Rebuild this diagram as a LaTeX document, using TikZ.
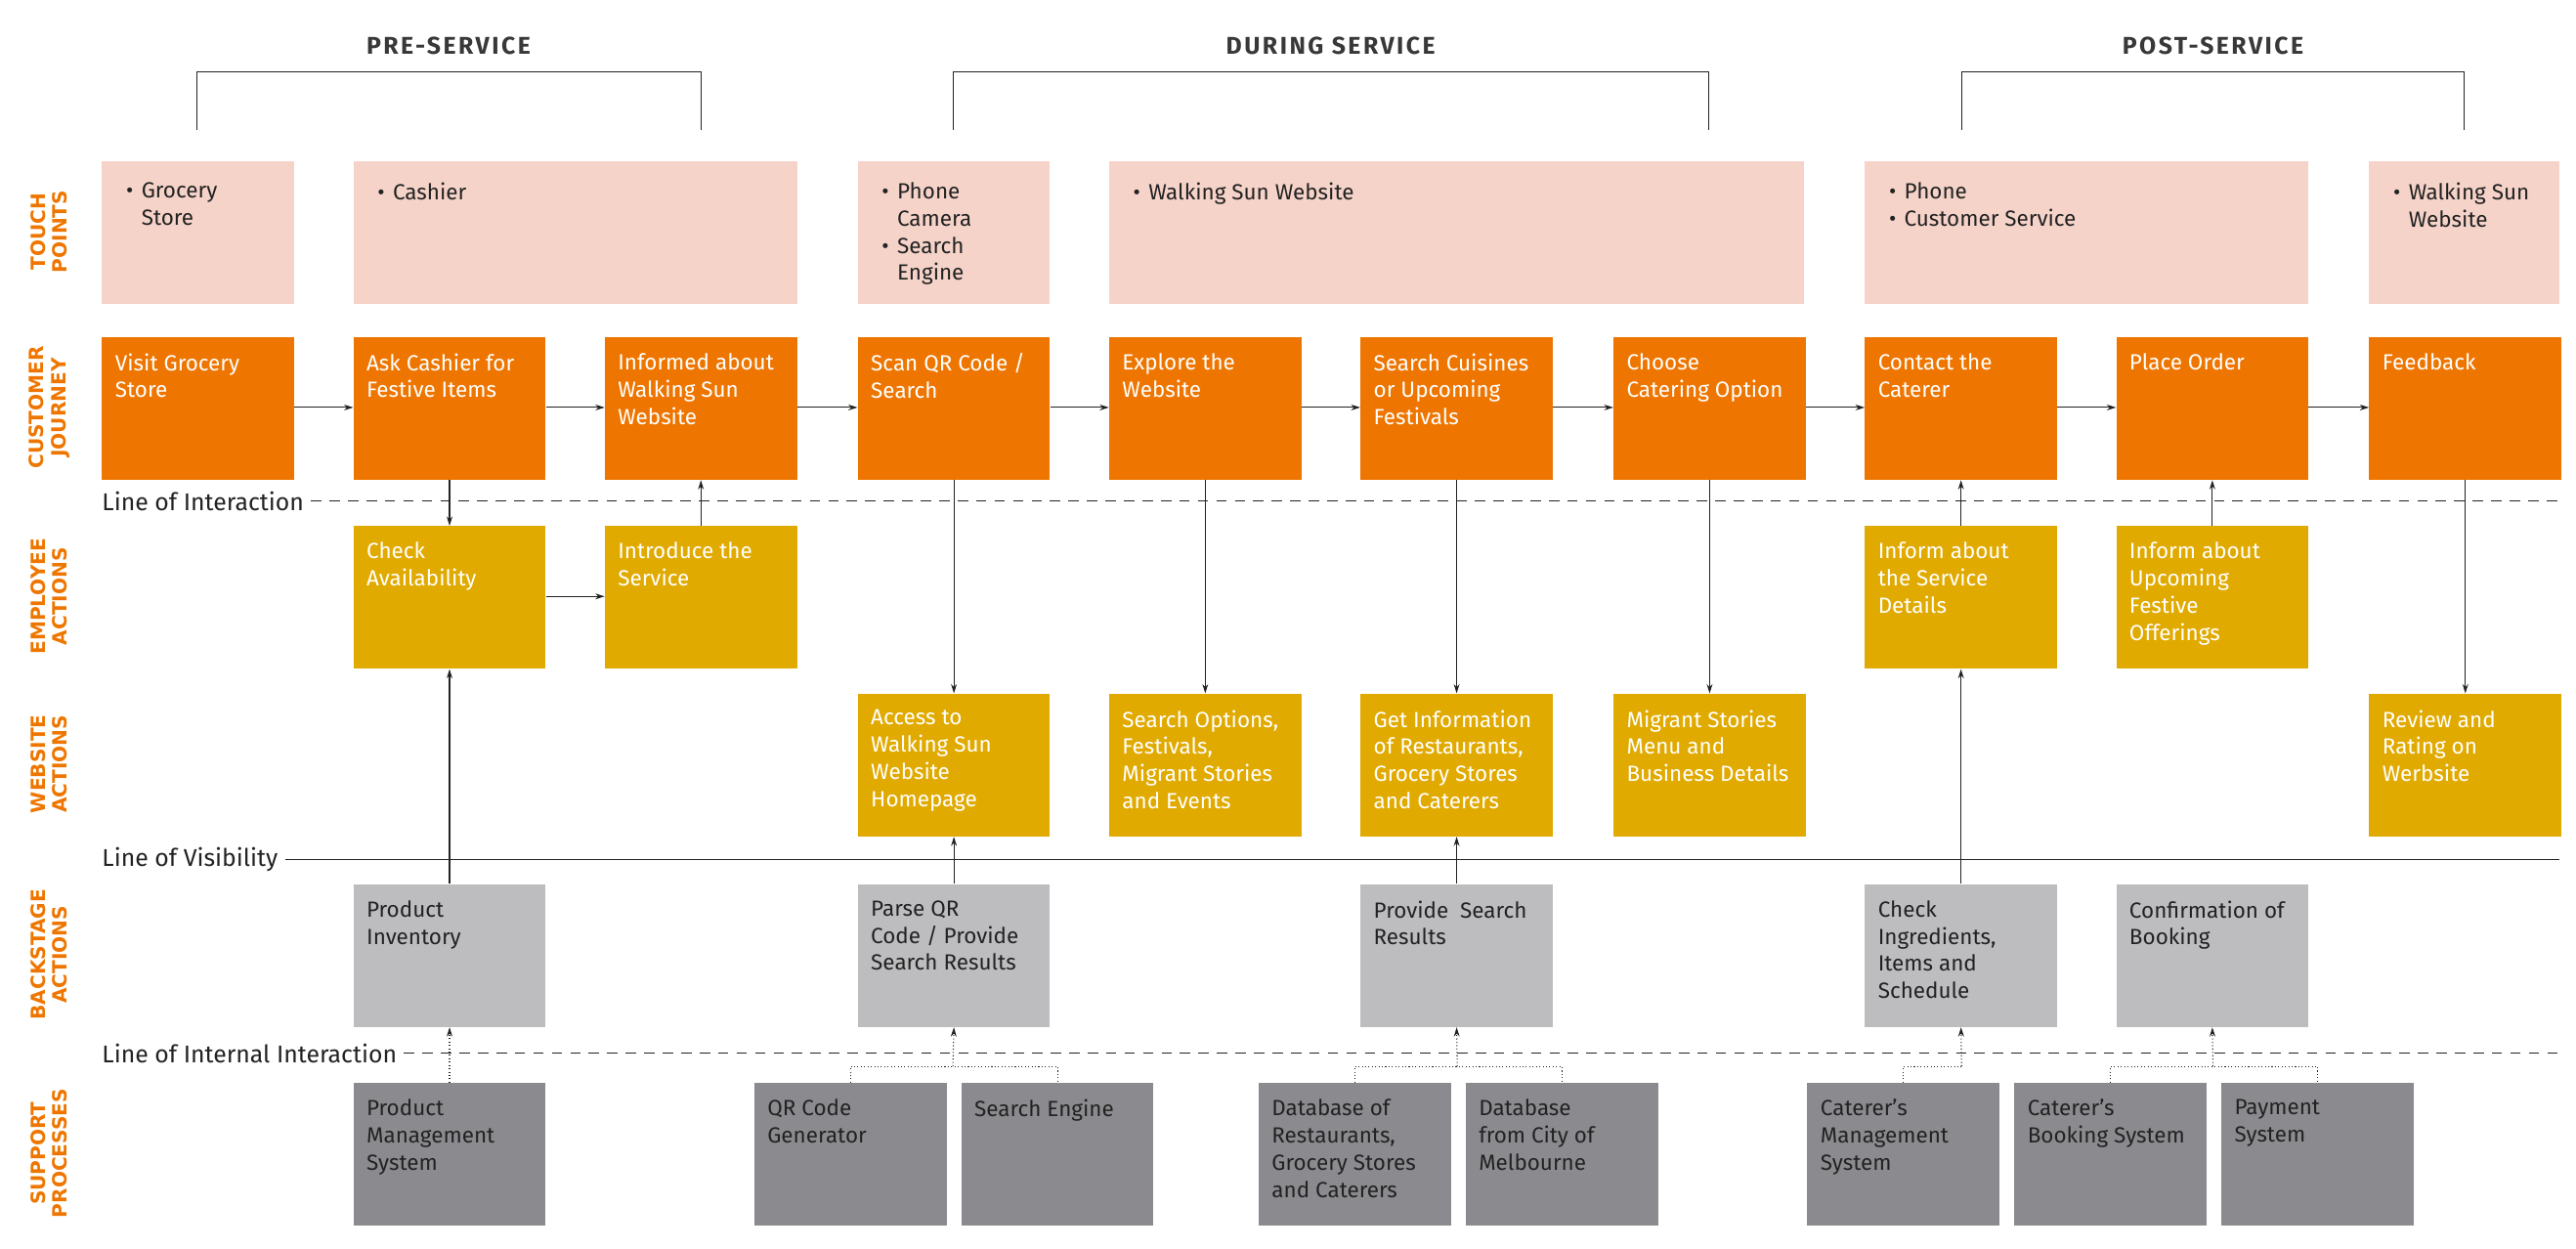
\documentclass[tikz,border=0pt]{standalone}
\usepackage{fontspec}
\setmainfont{Fira Sans}
\newfontfamily\rowfont{DejaVu Sans}
\usetikzlibrary{arrows.meta,positioning,calc}
\definecolor{bporange}{HTML}{EE7600}
\definecolor{bpyellow}{HTML}{E1AA00}
\definecolor{bppink}{HTML}{F5D3C8}
\definecolor{bplgray}{HTML}{BDBDC0}
\definecolor{bpdgray}{HTML}{8B8B8F}
\definecolor{bpink}{HTML}{222222}
\newcommand{\bx}[1]{\parbox[b][4.35cm][t]{5.85cm}{\vskip 0.5cm\raggedright\leftskip=0.4cm #1}}
\newcommand{\tpb}[2][5.85cm]{\parbox[b][4.35cm][t]{#1}{\vskip 0.65cm\raggedright\leftskip=1.2cm #2}}
\newcommand{\bul}{\leavevmode\llap{\textbullet\hspace{0.25cm}}}

\begin{document}
\begin{tikzpicture}[x=0.05cm,y=-0.05cm,
  base/.style={anchor=north west,inner sep=0pt,font=\fontsize{19}{23.5}\selectfont,text=bpink},
  box/.style={base,minimum width=5.85cm,minimum height=4.35cm},
  cj/.style={box,fill=bporange,text=white},
  ea/.style={box,fill=bpyellow,text=white},
  wa/.style={box,fill=bpyellow,text=white},
  ba/.style={box,fill=bplgray},
  sp/.style={box,fill=bpdgray},
  tp/.style={base,fill=bppink,minimum height=4.35cm},
  rowlab/.style={rotate=90,align=center,text=bporange,font=\rowfont\bfseries\fontsize{17}{19}\selectfont},
  phase/.style={font=\bfseries\fontsize{21}{24}\selectfont\addfontfeatures{LetterSpace=10},text=bpink!90},
  linelab/.style={anchor=west,inner sep=0pt,font=\fontsize{21}{24}\selectfont,text=bpink},
  arr/.style={-{Stealth[length=8pt,width=5pt]},line width=0.9pt,bpink},
  dotl/.style={dotted,line width=0.9pt,bpink},
  dotarr/.style={dotl,-{Stealth[length=8pt,width=5pt]}}
]
\useasboundingbox (0,0) rectangle (1568,760);

% phases
\node[phase] (pre) at (273,28) {PRE-SERVICE};
\node[phase] (dur) at (810,28) {DURING SERVICE};
\node[phase] (post) at (1347,28) {POST-SERVICE};
\draw[line width=0.9pt,bpink] (120,79) |- (427,44) -- (427,79);
\draw[line width=0.9pt,bpink] (580,79) |- (1040,44) -- (1040,79);
\draw[line width=0.9pt,bpink] (1194,79) |- (1500,44) -- (1500,79);

% row labels
\node[rowlab] (r1) at (30,141) {TOUCH\\POINTS};
\node[rowlab] (r2) at (30,248) {CUSTOMER\\JOURNEY};
\node[rowlab] (r3) at (30,363) {EMPLOYEE\\ACTIONS};
\node[rowlab] (r4) at (30,465) {WEBSITE\\ACTIONS};
\node[rowlab] (r5) at (30,581) {BACKSTAGE\\ACTIONS};
\node[rowlab] (r6) at (30,702) {SUPPORT\\PROCESSES};

% touch points
\node[tp,minimum width=5.85cm] (tp1) at (62,98) {\tpb{\bul Grocery\\Store}};
\node[tp,minimum width=13.5cm] (tp2) at (215,98) {\tpb[13.5cm]{\bul Cashier}};
\node[tp,minimum width=5.85cm] (tp3) at (522,98) {\tpb{\bul Phone\\Camera\\\bul Search\\Engine}};
\node[tp,minimum width=21.15cm] (tp4) at (675,98) {\tpb[21.15cm]{\bul Walking Sun Website}};
\node[tp,minimum width=13.5cm] (tp5) at (1135,98) {\tpb[13.5cm]{\bul Phone\\\bul Customer Service}};
\node[tp,minimum width=5.8cm] (tp6) at (1442,98) {\tpb[5.8cm]{\bul Walking Sun\\Website}};

% customer journey
\node[cj] (vgs) at (62,205) {\bx{Visit Grocery\\Store}};
\node[cj] (ask) at (215,205) {\bx{Ask Cashier for\\Festive Items}};
\node[cj] (inf) at (368,205) {\bx{Informed about\\Walking Sun\\Website}};
\node[cj] (scan) at (522,205) {\bx{Scan QR Code /\\Search}};
\node[cj] (expl) at (675,205) {\bx{Explore the\\Website}};
\node[cj] (srch) at (828,205) {\bx{Search Cuisines\\or Upcoming\\Festivals}};
\node[cj] (choose) at (982,205) {\bx{Choose\\Catering Option}};
\node[cj] (contact) at (1135,205) {\bx{Contact the\\Caterer}};
\node[cj] (order) at (1288,205) {\bx{Place Order}};
\node[cj,minimum width=5.8cm] (fb) at (1442,205) {\bx{Feedback}};

% employee actions
\node[ea] (chk) at (215,320) {\bx{Check\\Availability}};
\node[ea] (intro) at (368,320) {\bx{Introduce the\\Service}};
\node[ea] (isd) at (1135,320) {\bx{Inform about\\the Service\\Details}};
\node[ea] (iuf) at (1288,320) {\bx{Inform about\\Upcoming\\Festive\\Offerings}};

% website actions
\node[wa] (acc) at (522,422) {\bx{Access to\\Walking Sun\\Website\\Homepage}};
\node[wa] (sopt) at (675,422) {\bx{Search Options,\\Festivals,\\Migrant Stories\\and Events}};
\node[wa] (getinfo) at (828,422) {\bx{Get Information\\of Restaurants,\\Grocery Stores\\and Caterers}};
\node[wa] (migr) at (982,422) {\bx{Migrant Stories\\Menu and\\Business Details}};
\node[wa,minimum width=5.8cm] (rev) at (1442,422) {\bx{Review and\\Rating on\\Werbsite}};

% backstage
\node[ba] (pinv) at (215,538) {\bx{Product\\Inventory}};
\node[ba] (parse) at (522,538) {\bx{Parse QR\\Code / Provide\\Search Results}};
\node[ba] (prov) at (828,538) {\bx{Provide~ Search\\Results}};
\node[ba] (chking) at (1135,538) {\bx{Check\\Ingredients,\\Items and\\Schedule}};
\node[ba] (conf) at (1288,538) {\bx{Confirmation of\\Booking}};

% support
\node[sp] (pms) at (215,659) {\bx{Product\\Management\\System}};
\node[sp] (qrg) at (459,659) {\bx{QR Code\\Generator}};
\node[sp] (seng) at (585,659) {\bx{Search Engine}};
\node[sp] (dbr) at (766,659) {\bx{Database of\\Restaurants,\\Grocery Stores\\and Caterers}};
\node[sp] (dbm) at (892,659) {\bx{Database\\from City of\\Melbourne}};
\node[sp] (cms) at (1100,659) {\bx{Caterer's\\Management\\System}};
\node[sp] (cbs) at (1226,659) {\bx{Caterer's\\Booking System}};
\node[sp] (pay) at (1352,659) {\bx{Payment\\System}};

% lines
\node[linelab] (loi) at (62,305) {Line of Interaction};
\node[linelab] (lov) at (62,523) {Line of Visibility};
\node[linelab] (lii) at (62,641) {Line of Internal Interaction};
\coordinate (loiend) at (1558,305);
\coordinate (lovend) at (1558,523);
\coordinate (liiend) at (1558,641);
\draw[dash pattern=on 9pt off 7pt,line width=0.9pt,bpink] ([xshift=6pt]loi.east) -- (loiend);
\draw[line width=0.9pt,bpink] ([xshift=6pt]lov.east) -- (lovend);
\draw[dash pattern=on 9pt off 7pt,line width=0.9pt,bpink] ([xshift=6pt]lii.east) -- (liiend);

% journey flow
\foreach \a/\b in {vgs/ask,ask/inf,inf/scan,scan/expl,expl/srch,srch/choose,choose/contact,contact/order,order/fb}
  \draw[arr] (\a.east |- 0,248) -- (\b.west |- 0,248);
\draw[arr] (chk.east |- 0,363) -- (intro.west |- 0,363);

% verticals
\foreach \a/\b in {ask/chk,scan/acc,expl/sopt,srch/getinfo,choose/migr,fb/rev}
  \draw[arr] (\a.south) -- (\b.north);
\foreach \a/\b in {intro/inf,pinv/chk,parse/acc,prov/getinfo,isd/contact,chking/isd,iuf/order}
  \draw[arr] (\a.north) -- (\b.south);

% support links
\coordinate (j1) at (580,649);
\coordinate (j2) at (887,649);
\coordinate (j3) at (1194,649);
\coordinate (j4) at (1347,649);
\draw[dotarr] (pms.north) -- (pinv.south);
\draw[dotl] (qrg.north) |- (j1) -| (seng.north);
\draw[dotarr] (j1) -- (parse.south);
\draw[dotl] (dbr.north) |- (j2) -| (dbm.north);
\draw[dotarr] (j2) -- (prov.south);
\draw[dotl] (cms.north) |- (j3);
\draw[dotarr] (j3) -- (chking.south);
\draw[dotl] (cbs.north) |- (j4) -| (pay.north);
\draw[dotarr] (j4) -- (conf.south);
\end{tikzpicture}
\end{document}
